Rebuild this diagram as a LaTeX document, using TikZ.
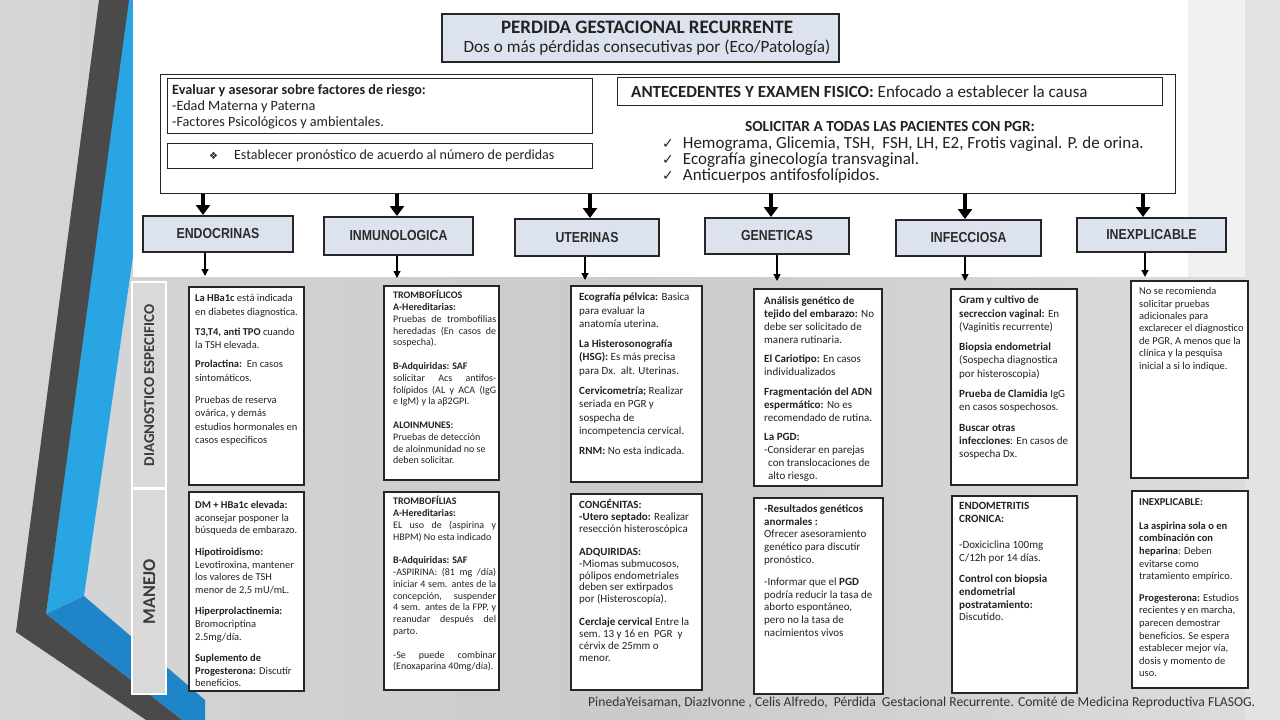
\documentclass[tikz,border=0pt]{standalone}
\usepackage{fontspec}
\usepackage{graphicx}
\setmainfont{Carlito}
\newfontfamily\catfont[FakeStretch=0.85]{Liberation Sans}
\newfontfamily\symfont{DejaVu Sans}
\usetikzlibrary{arrows.meta}
\definecolor{lnc}{HTML}{262626}
\definecolor{catfill}{HTML}{DCE3EE}
\definecolor{txtc}{HTML}{222222}
\definecolor{catc}{HTML}{2B2B2B}
\definecolor{labc}{HTML}{D9D9D9}
\definecolor{labtc}{HTML}{3A3A3A}
\definecolor{footc}{HTML}{333333}
\definecolor{bgL}{HTML}{D4D6D8}
\definecolor{bgM}{HTML}{C8CACC}
\definecolor{bgR}{HTML}{DCDDDE}
\definecolor{darkband}{HTML}{4A4A4A}
\definecolor{blueband}{HTML}{2AA5E4}
\definecolor{blueband2}{HTML}{1E86C8}
\definecolor{stripc}{HTML}{F1F1F1}
\definecolor{edgec}{HTML}{E3E3E3}
\newcommand\fs[2]{\fontsize{#1}{#2}\selectfont}
\newcommand\J[2]{\makebox[#1][s]{#2}}
\newcommand\fl{\rule{0pt}{9pt}}
\newcommand\ck{{\symfont\fontsize{14}{16}\selectfont ✓}}
\tikzset{
  hbox/.style={draw=lnc, line width=1.4pt, fill=white, anchor=north west, inner sep=0pt},
  tbox/.style={draw=lnc, line width=1.6pt, fill=catfill, anchor=north west, inner sep=0pt},
  cat/.style={draw=lnc, line width=2pt, fill=catfill, anchor=north west, inner sep=0pt,
              font=\catfont\bfseries\fs{14.5}{16}, text=catc},
  dbox/.style={draw=lnc, line width=1.5pt, fill=white, anchor=north west, inner sep=0pt},
  txt/.style={anchor=north west, inner sep=0pt, align=left, text=txtc},
  lab/.style={fill=labc, anchor=north west, inner sep=0pt},
  labtxt/.style={rotate=90, text=labtc, inner sep=0pt},
  bigarrow/.style={-{Triangle[width=14pt,length=10pt]}, line width=4.5pt, draw=black},
  smallarrow/.style={-{Triangle[width=7pt,length=7pt]}, line width=1.3pt, draw=black}
}
\begin{document}
\begin{tikzpicture}[x=1pt,y=-1pt]
\useasboundingbox (0,0) rectangle (1280,720);
% background
\shade[left color=bgL, right color=bgR, middle color=bgM] (0,0) rectangle (1280,720);
\fill[edgec] (1245,0) rectangle (1280,720);
% decorative bands
\fill[blueband] (128,0) -- (170,0) -- (84,596) -- (46,614) -- cycle;
\fill[blueband2] (46,614) -- (84,596) -- (205,700) -- (205,720) -- (182,720) -- cycle;
\fill[darkband] (99,0) -- (129,0) -- (46,614) -- (182,720) -- (146,720) -- (16,632) -- cycle;
% white panel
\fill[white] (133,0) rectangle (1188,277);
\fill[stripc] (1188,0) rectangle (1245,277);

% side labels
\fill[white] (131,281) rectangle (167,695);
\node[lab, minimum width=32, minimum height=204] (L1) at (133,283) {};
\node[lab, minimum width=32, minimum height=203] (L2) at (133,490) {};
\node[labtxt, font=\bfseries\fs{15}{18}] (L1t) at (L1.center) {DIAGNOSTICO ESPECIFICO};
\node[labtxt, font=\bfseries\fs{18}{20}] (L2t) at (L2.center) {MANEJO};

% title
\node[tbox, minimum width=397, minimum height=48] (title) at (441,13) {};
\node[font=\bfseries\fs{19}{22}, text=txtc] (ttl1) at (647,27) {PERDIDA GESTACIONAL RECURRENTE};
\node[font=\fs{17.2}{20}, text=txtc] (ttl2) at (647,48) {Dos o más pérdidas consecutivas por (Eco/Patología)};

% big box
\node[hbox, minimum width=1015, minimum height=119] (big) at (160,74) {};
\node[hbox, minimum width=425, minimum height=55] (ev) at (167,78) {};
\node[txt, font=\fs{14.2}{16}] (evt) at (172,82.6) {\rule{0pt}{12pt}\textbf{Evaluar y asesorar sobre factores de riesgo:}\\
-Edad Materna y Paterna\\
-Factores Psicológicos y ambientales.};
\node[hbox, minimum width=425, minimum height=25] (pr) at (167,143) {};
\node[anchor=west, inner sep=0pt, text=txtc, font=\fs{14}{16}] (prt) at (209,156) {{\symfont\fs{10}{12}❖}\hspace{16pt}Establecer pronóstico de acuerdo al número de perdidas};
\node[hbox, minimum width=545, minimum height=28] (ant) at (617,77) {};
\node[anchor=west, inner sep=0pt, text=txtc, font=\fs{17}{19}] (antt) at (631,91.5) {\textbf{ANTECEDENTES Y EXAMEN FISICO:} Enfocado a establecer la causa};
\node[font=\bfseries\fs{15.4}{17}, text=txtc, inner sep=0pt] (sol) at (890,127) {SOLICITAR A TODAS LAS PACIENTES CON PGR:};
\node[txt, font=\fs{17}{16}] (chk) at (662,135.3) {\rule{0pt}{13pt}\ck\hspace{9pt}Hemograma, Glicemia, TSH,\ \ FSH, LH, E2, Frotis vaginal. P. de orina.\\
\ck\hspace{9pt}Ecografía ginecología transvaginal.\\
\ck\hspace{9pt}Anticuerpos antifosfolípidos.};

% categories
\node[cat, minimum width=150, minimum height=36] (c1) at (142,215) {ENDOCRINAS};
\node[cat, minimum width=149, minimum height=38] (c2) at (323,216) {INMUNOLOGICA};
\node[cat, minimum width=144, minimum height=37] (c3) at (514,218) {UTERINAS};
\node[cat, minimum width=144, minimum height=36] (c4) at (704,217) {GENETICAS};
\node[cat, minimum width=145, minimum height=36] (c5) at (895,219) {INFECCIOSA};
\node[cat, minimum width=149, minimum height=34] (c6) at (1076,217) {INEXPLICABLE};

\coordinate (s1) at (203,0);
\coordinate (s2) at (397,0);
\coordinate (s3) at (590,0);
\coordinate (s4) at (771,0);
\coordinate (s5) at (965,0);
\coordinate (s6) at (1143,0);
\foreach \i in {1,...,6}{\draw[bigarrow] (big.south -| s\i) -- (c\i.north -| s\i);}

\coordinate (r1) at (205,276);
\coordinate (r2) at (397,278);
\coordinate (r3) at (585,280);
\coordinate (r4) at (777,281);
\coordinate (r5) at (965,281);
\coordinate (r6) at (1145,277);
\foreach \i in {1,...,6}{\draw[smallarrow] (c\i.south -| r\i) -- (r\i);}

% detail boxes
\node[dbox, minimum width=115, minimum height=198] (d1) at (188,286) {};
\node[dbox, minimum width=115, minimum height=199] (m1) at (188,491) {};
\node[dbox, minimum width=115, minimum height=194] (d2) at (383,285) {};
\node[dbox, minimum width=115, minimum height=198] (m2) at (383,491) {};
\node[dbox, minimum width=131, minimum height=196] (d3) at (570,285) {};
\node[dbox, minimum width=131, minimum height=196] (m3) at (570,493) {};
\node[dbox, minimum width=128, minimum height=197] (d4) at (753,288) {};
\node[dbox, minimum width=129, minimum height=196] (m4) at (753,497) {};
\node[dbox, minimum width=126, minimum height=196] (d5) at (950,288) {};
\node[dbox, minimum width=125, minimum height=197] (m5) at (951,495) {};
\node[dbox, minimum width=117, minimum height=197] (d6) at (1130,280) {};
\node[dbox, minimum width=116, minimum height=197] (m6) at (1131,490) {};

% column 1
\node[txt, font=\fs{10.5}{13.3}] (t1) at (195,292.5) {\fl\textbf{La HBa1c} está indicada\\
en diabetes diagnostica.\\[7pt]
\textbf{T3,T4, anti TPO} cuando\\
la TSH elevada.\\[6pt]
\textbf{Prolactina:}\ \ En casos\\
sintomáticos.\\[9pt]
Pruebas de reserva\\
ovárica, y demás\\
estudios hormonales en\\
casos especificos};
\node[txt, font=\fs{10.5}{12.6}] (u1) at (195,499.5) {\fl\textbf{DM + HBa1c elevada:}\\
aconsejar posponer la\\
búsqueda de embarazo.\\[9pt]
\textbf{Hipotiroidismo:}\\
Levotiroxina, mantener\\
los valores de TSH\\
menor de 2,5 mU/mL.\\[9pt]
\textbf{Hiperprolactinemia:}\\
Bromocriptina\\
2.5mg/día.\\[9pt]
\textbf{Suplemento de}\\
\textbf{Progesterona:} Discutir\\
beneficios.};

% column 2
\node[txt, font=\fs{10}{11.8}] (t2) at (393,289.5) {\fl\textbf{TROMBOFÍLICOS}\\
\textbf{A-Hereditarias:}\\
\J{103pt}{Pruebas de trombofilias}\\
\J{103pt}{heredadas (En casos de}\\
sospecha).\\[11.8pt]
\textbf{B-Adquiridas: SAF}\\
\J{103pt}{solicitar Acs antifos-}\\
\J{103pt}{folípidos (AL y ACA (IgG}\\
e IgM) y la aβ2GPI.\\[11.8pt]
\textbf{ALOINMUNES:}\\
Pruebas de detección\\
de aloinmunidad no se\\
deben solicitar.};
\node[txt, font=\fs{10}{11.8}] (u2) at (393,495.5) {\fl\textbf{TROMBOFÍLIAS}\\
\textbf{A-Hereditarias:}\\
\J{103pt}{EL uso de (aspirina y}\\
HBPM) No esta indicado\\[11.8pt]
\textbf{B-Adquiridas: SAF}\\
\J{103pt}{-ASPIRINA: (81 mg /día)}\\
\J{103pt}{iniciar 4 sem. antes de la}\\
\J{103pt}{concepción, suspender}\\
\J{103pt}{4 sem. antes de la FPP. y}\\
\J{103pt}{reanudar después del}\\
parto.\\[11.8pt]
\J{103pt}{-Se puede combinar}\\
(Enoxaparina 40mg/día).};

% column 3
\node[txt, font=\fs{11}{13.3}] (t3) at (579,291.5) {\fl\textbf{Ecografía pélvica:} Basica\\
para evaluar la\\
anatomía uterina.\\[7pt]
\textbf{La Histerosonografía}\\
\textbf{(HSG):} Es más precisa\\
para Dx.\ \ alt. Uterinas.\\[7pt]
\textbf{Cervicometría;} Realizar\\
seriada en PGR y\\
sospecha de\\
incompetencia cervical.\\[7pt]
\textbf{RNM:} No esta indicada.};
\node[txt, font=\fs{11}{11.7}] (u3) at (579,499.5) {\fl\textbf{CONGÉNITAS:}\\
\textbf{-Utero septado:} Realizar\\
resección histeroscópica\\[11.7pt]
\textbf{ADQUIRIDAS:}\\
-Miomas submucosos,\\
pólipos endometriales\\
deben ser extirpados\\
por (Histeroscopía).\\[11.7pt]
\textbf{Cerclaje cervical} Entre la\\
sem.\ 13 y 16 en\ \ PGR\ \ y\\
cérvix de 25mm o\\
menor.};

% column 4
\node[txt, font=\fs{11}{12.8}] (t4) at (764,295.5) {\fl\textbf{Análisis genético de}\\
\textbf{tejido del embarazo:} No\\
debe ser solicitado de\\
manera rutinaria.\\[7pt]
\textbf{El Cariotipo:} En casos\\
individualizados\\[7pt]
\textbf{Fragmentación del ADN}\\
\textbf{espermático:} No es\\
recomendado de rutina.\\[7pt]
\textbf{La PGD:}\\
-Considerar en parejas\\
\hspace*{4pt}con translocaciones de\\
\hspace*{4pt}alto riesgo.};
\node[txt, font=\fs{11}{12.6}] (u4) at (764,503.5) {\fl\textbf{-Resultados genéticos}\\
\textbf{anormales :}\\
Ofrecer asesoramiento\\
genético para discutir\\
pronóstico.\\[10pt]
-Informar que el \textbf{PGD}\\
podría reducir la tasa de\\
aborto espontáneo,\\
pero no la tasa de\\
nacimientos vivos};

% column 5
\node[txt, font=\fs{11}{13.3}] (t5) at (959,294.5) {\fl\textbf{Gram y cultivo de}\\
\textbf{secreccion vaginal:} En\\
(Vaginitis recurrente)\\[7pt]
\textbf{Biopsia endometrial}\\
(Sospecha diagnostica\\
por histeroscopia)\\[7pt]
\textbf{Prueba de Clamidia} IgG\\
en casos sospechosos.\\[7pt]
\textbf{Buscar otras}\\
\textbf{infecciones}: En casos de\\
sospecha Dx.};
\node[txt, font=\fs{11}{12.8}] (u5) at (959,500.5) {\fl\textbf{ENDOMETRITIS}\\
\textbf{CRONICA:}\\[13pt]
-Doxiciclina 100mg\\
C/12h por 14 días.\\[8.5pt]
\textbf{Control con biopsia}\\
\textbf{endometrial}\\
\textbf{postratamiento:}\\
Discutido.};

% column 6
\node[txt, font=\fs{10.5}{12.4}] (t6) at (1139,285.5) {\fl No se recomienda\\
solicitar pruebas\\
adicionales para\\
exclarecer el diagnostico\\
de PGR, A menos que la\\
clínica y la pesquisa\\
inicial a si lo indique.};
\node[txt, font=\fs{10.5}{12.6}] (u6) at (1139,496.5) {\fl\textbf{INEXPLICABLE:}\\[11pt]
\textbf{La aspirina sola o en}\\
\textbf{combinación con}\\
\textbf{heparina}: Deben\\
evitarse como\\
tratamiento empírico.\\[9pt]
\textbf{Progesterona:} Estudios\\
recientes y en marcha,\\
parecen demostrar\\
beneficios. Se espera\\
establecer mejor vía,\\
dosis y momento de\\
uso.};

% footer
\node[anchor=west, inner sep=0pt, text=footc] (foot) at (588,703) {\resizebox{667pt}{!}{\fs{12}{14}PinedaYeisaman, DiazIvonne , Celis Alfredo,\ \ Pérdida\ \ Gestacional Recurrente. Comité de Medicina Reproductiva FLASOG.}};
\end{tikzpicture}
\end{document}
